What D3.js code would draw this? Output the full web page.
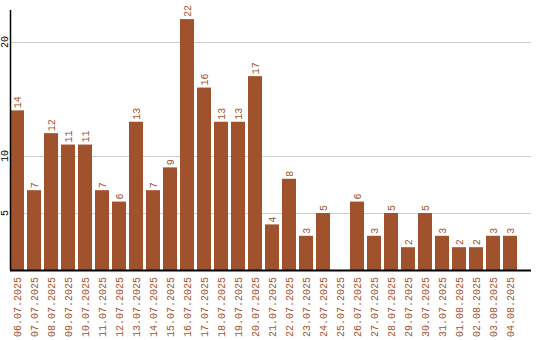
<!DOCTYPE html>
<html>
<head>
<meta charset="utf-8">
<script src="https://cdn.jsdelivr.net/npm/d3@7.9.0/dist/d3.min.js"></script>
<style>
  body { margin: 0; background: #fff; }
  text { font-family: "Liberation Mono", monospace; }
</style>
</head>
<body>
<div id="chart"></div>
<script>
// data
const dates = ['06.07.2025', '07.07.2025', '08.07.2025', '09.07.2025', '10.07.2025',
    '11.07.2025', '12.07.2025', '13.07.2025', '14.07.2025', '15.07.2025',
    '16.07.2025', '17.07.2025', '18.07.2025', '19.07.2025', '20.07.2025',
    '21.07.2025', '22.07.2025', '23.07.2025', '24.07.2025', '25.07.2025',
    '26.07.2025', '27.07.2025', '28.07.2025', '29.07.2025', '30.07.2025',
    '31.07.2025', '01.08.2025', '02.08.2025', '03.08.2025', '04.08.2025'];
const counts = [14, 7, 12, 11, 11, 7, 6, 13, 7, 9, 22, 16, 13, 13, 17,
    4, 8, 3, 5, 0, 6, 3, 5, 2, 5, 3, 2, 2, 3, 3];
const yTicks = [5, 10, 20];

const width = 540;
const height = 340;
const color = '#a0522d';

const data = dates.map((d, i) => ({ date: d, count: counts[i] }));

const svg = d3.select('#chart')
    .append('svg')
    .attr('width', width)
    .attr('height', height);

const xScale = d3.scaleBand()
    .domain(dates)
    .range([10, 517])
    .paddingInner(3 / 17)
    .paddingOuter(0);

const yScale = d3.scaleLinear()
    .domain([0, 22.8])
    .range([270, 10]);

// gridlines
svg.append('g')
    .selectAll('line')
    .data(yTicks)
    .enter()
    .append('line')
    .attr('x1', 11)
    .attr('x2', 531)
    .attr('y1', d => Math.round(yScale(d)) + 0.5)
    .attr('y2', d => Math.round(yScale(d)) + 0.5)
    .attr('stroke', '#cccccc')
    .attr('stroke-width', 1);

// y tick labels
svg.append('g')
    .selectAll('text')
    .data(yTicks)
    .enter()
    .append('text')
    .attr('transform', d => `translate(4, ${yScale(d)}) rotate(-90)`)
    .attr('text-anchor', 'middle')
    .attr('dy', '0.35em')
    .attr('font-size', '10px')
    .attr('fill', '#000')
    .text(d => d);

// bars
svg.append('g')
    .selectAll('rect')
    .data(data.filter(d => d.count > 0))
    .enter()
    .append('rect')
    .attr('x', d => xScale(d.date))
    .attr('y', d => yScale(d.count))
    .attr('width', xScale.bandwidth())
    .attr('height', d => yScale(0) - yScale(d.count))
    .attr('fill', color);

// value labels
svg.append('g')
    .selectAll('text')
    .data(data.filter(d => d.count > 0))
    .enter()
    .append('text')
    .attr('transform', d => `translate(${xScale(d.date) + xScale.bandwidth() / 2}, ${yScale(d.count) - 2}) rotate(-90)`)
    .attr('text-anchor', 'start')
    .attr('dy', '0.35em')
    .attr('font-size', '10px')
    .attr('fill', color)
    .text(d => d.count);

// axes lines
svg.append('line')
    .attr('x1', 10.5).attr('x2', 10.5)
    .attr('y1', 10).attr('y2', 270)
    .attr('stroke', '#000')
    .attr('stroke-width', 1.5);

svg.append('line')
    .attr('x1', 10).attr('x2', 531)
    .attr('y1', 270.5).attr('y2', 270.5)
    .attr('stroke', '#000')
    .attr('stroke-width', 2);

// x labels
svg.append('g')
    .selectAll('text')
    .data(dates)
    .enter()
    .append('text')
    .attr('transform', d => `translate(${xScale(d) + xScale.bandwidth() / 2}, 277) rotate(-90)`)
    .attr('text-anchor', 'end')
    .attr('dy', '0.35em')
    .attr('font-size', '10px')
    .attr('fill', color)
    .text(d => d);
</script>
</body>
</html>
